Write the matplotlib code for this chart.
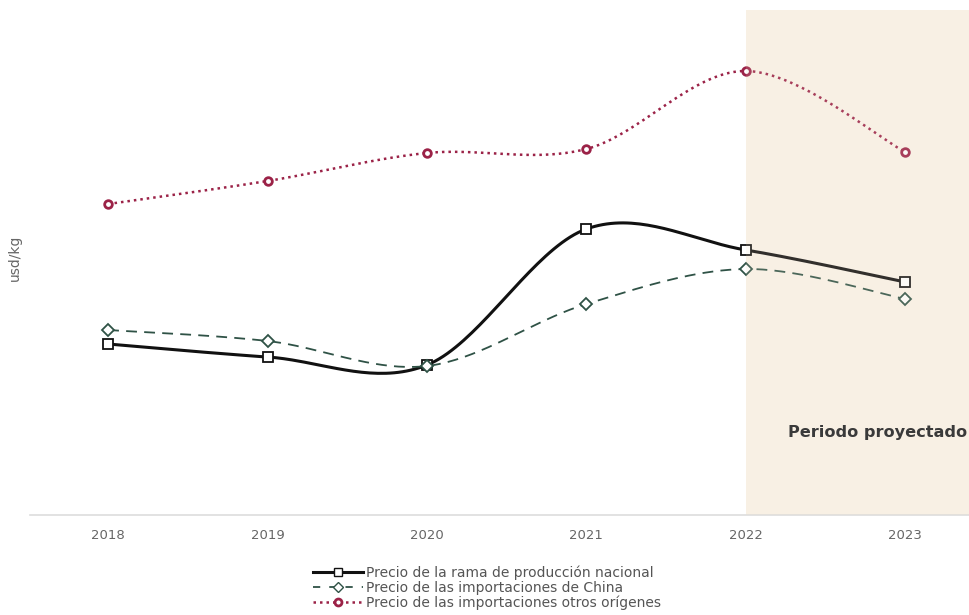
import numpy as np
import matplotlib.pyplot as plt
from matplotlib.lines import Line2D

# data (usd/kg)
years = [2018, 2019, 2020, 2021, 2022, 2023]
nacional = [1.71, 1.58, 1.50, 2.86, 2.65, 2.33]
china = [1.85, 1.74, 1.49, 2.11, 2.46, 2.16]
otros = [3.11, 3.34, 3.62, 3.66, 4.44, 3.63]

labels = ['Precio de la rama de producción nacional',
          'Precio de las importaciones de China',
          'Precio de las importaciones otros orígenes']


def smooth(x, y, n=40):
    '''Catmull-Rom style smoothing, similar to the office chart smoothing.'''
    x = np.asarray(x, float)
    y = np.asarray(y, float)
    px = np.concatenate([[x[0]], x, [x[-1]]])
    py = np.concatenate([[y[0]], y, [y[-1]]])
    xs, ys = [], []
    t = np.linspace(0, 1, n)
    for i in range(1, len(px) - 2):
        p0 = np.array([px[i], py[i]])
        p3 = np.array([px[i + 1], py[i + 1]])
        c1 = p0 + (p3 - np.array([px[i - 1], py[i - 1]])) / 6
        c2 = p3 - (np.array([px[i + 2], py[i + 2]]) - p0) / 6
        pts = (((1 - t) ** 3)[:, None] * p0 + (3 * (1 - t) ** 2 * t)[:, None] * c1
               + (3 * (1 - t) * t ** 2)[:, None] * c2 + (t ** 3)[:, None] * p3)
        xs.append(pts[:, 0])
        ys.append(pts[:, 1])
    return np.concatenate(xs), np.concatenate(ys)


plt.rcParams['font.family'] = ['DejaVu Sans']

fig = plt.figure(figsize=(9.69, 6.15), dpi=100)
ax = fig.add_axes([30 / 969, 1 - 515 / 615, 939 / 969, 505 / 615])

black = '#111111'
green = '#2f5246'
red = '#9b2247'

# projected period shading (base under the lines, light veil on top)
ax.axvspan(2022, 2023.45, color='#faf3ea', lw=0, zorder=0)
ax.axvspan(2022, 2023.45, color='#efe0c8', alpha=0.15, lw=0, zorder=5)

sx, sy = smooth(years, nacional)
ax.plot(sx, sy, color=black, lw=2.2, zorder=3)
ax.plot(years, nacional, ls='none', marker='s', ms=7, mfc='white', mec=black, mew=1.3, zorder=4)

sx, sy = smooth(years, china)
ax.plot(sx, sy, color=green, lw=1.3, dashes=(6, 4), zorder=3)
ax.plot(years, china, ls='none', marker='D', ms=6.5, mfc='white', mec=green, mew=1.3, zorder=4)

sx, sy = smooth(years, otros)
ax.plot(sx, sy, color=red, lw=1.8, ls=(0, (1, 1.6)), zorder=3)
ax.plot(years, otros, ls='none', marker='o', ms=5.5, mfc='white', mec=red, mew=2, zorder=4)

ax.text(2023.39, 0.82, 'Periodo proyectado', ha='right', va='center',
        fontsize=11.6, fontweight='bold', color='#3a3a3a', zorder=6)

ax.set_xlim(2017.51, 2023.40)
ax.set_ylim(0, 5.05)
ax.set_xticks(years)
ax.set_xticklabels([str(y) for y in years], fontsize=9.5, color='#666666')
ax.tick_params(axis='x', length=0, pad=10)
ax.set_yticks([])
for s in ['top', 'right', 'left']:
    ax.spines[s].set_visible(False)
ax.spines['bottom'].set_color('#dddddd')
ax.spines['bottom'].set_linewidth(1.2)

fig.text(15 / 969, 1 - 258 / 615, 'usd/kg', rotation=90, ha='center', va='center',
         fontsize=10, color='#666666')

handles = [
    Line2D([], [], color=black, lw=2.2, marker='s', ms=6, mfc='white', mec=black),
    Line2D([], [], color=green, lw=1.3, dashes=(4, 5), marker='D', ms=5, mfc='white', mec=green),
    Line2D([], [], color=red, lw=1.8, ls=(0, (1, 1.6)), marker='o', ms=5, mfc='white', mec=red, mew=2),
]
fig.legend(handles, labels, loc='center', bbox_to_anchor=(487 / 969, 1 - 588 / 615),
           frameon=False, prop={'size': 10}, handlelength=3.6,
           handletextpad=0.2, labelspacing=0.05, labelcolor='#555555', borderpad=0)

plt.savefig('out.png', dpi=100)
